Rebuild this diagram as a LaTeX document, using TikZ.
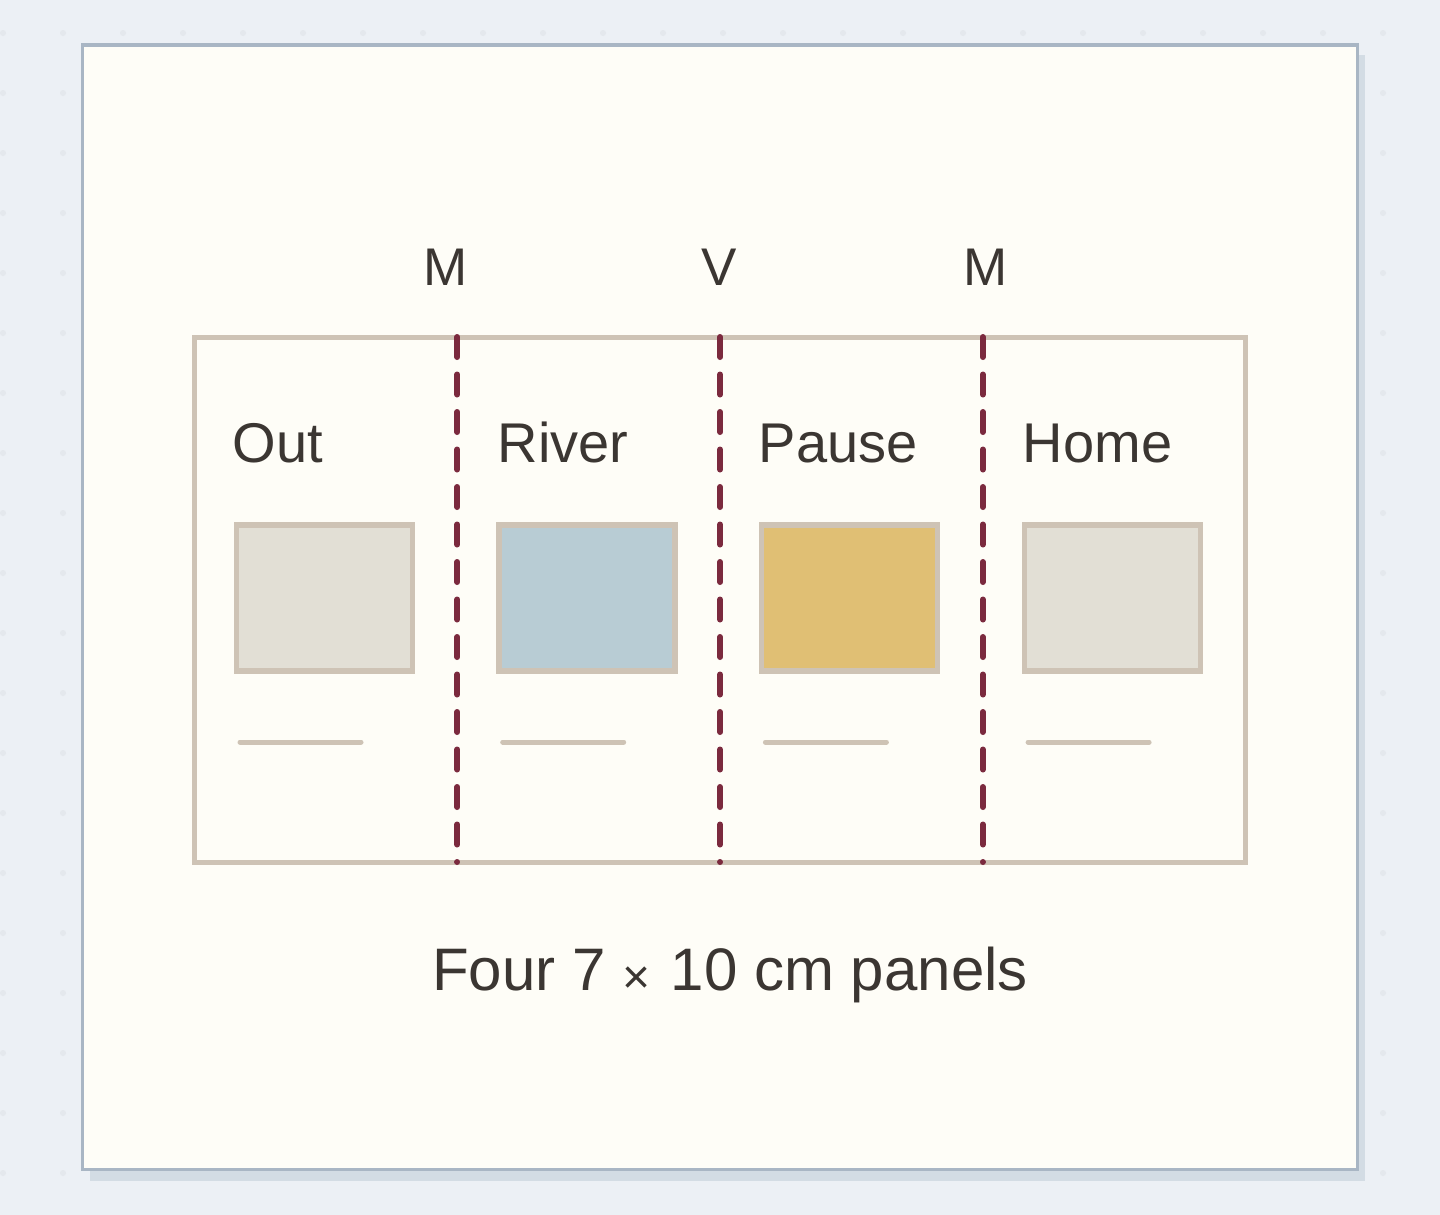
\documentclass[tikz,border=0pt]{standalone}
\usepackage{fontspec}
\setmainfont{Liberation Sans}
\definecolor{bg}{HTML}{ECF0F5}
\definecolor{bgdot}{HTML}{E4E8ED}
\definecolor{paper}{HTML}{FEFDF7}
\definecolor{frame}{HTML}{A9B6C4}
\definecolor{shadow}{HTML}{D3DCE4}
\definecolor{tan}{HTML}{CEC3B5}
\definecolor{fold}{HTML}{7B2A3E}
\definecolor{ink}{HTML}{3B3632}
\definecolor{fillgrey}{HTML}{E2DFD5}
\definecolor{fillblue}{HTML}{B8CCD4}
\definecolor{fillgold}{HTML}{E0BF74}
\tikzset{
  swatch/.style={draw=tan, line width=2.75pt, minimum width=88pt, minimum height=73pt, inner sep=0pt},
  rule/.style={draw=tan, line width=2.5pt, line cap=round},
  foldline/.style={draw=fold, line width=3pt, line cap=round, dash pattern=on 10pt off 8.75pt},
  paneltext/.style={anchor=base west, inner sep=0pt, text=ink, font=\fontsize{28pt}{32pt}\selectfont},
  foldtext/.style={anchor=base, inner sep=0pt, text=ink, font=\fontsize{26.5pt}{30pt}\selectfont},
  captext/.style={anchor=base, inner sep=0pt, text=ink, font=\fontsize{30pt}{34pt}\selectfont}
}
\begin{document}
\begin{tikzpicture}[x=0.5pt,y=-0.5pt]
\useasboundingbox (0,0) rectangle (1440,1215);
\fill[bg] (0,0) rectangle (1440,1215);
\foreach \i in {0,...,24} {
  \foreach \j in {0,...,19} {
    \fill[bgdot] ({3+60*\i},{33+60*\j}) circle (3);
  }
}
% shadow and paper
\fill[shadow] (90,55) rectangle (1365,1181);
\draw[fill=paper, draw=frame, line width=1.75pt] (82.5,45) rectangle (1357.5,1169.5);
% panel strip
\coordinate (pTL) at (194.7,337);
\coordinate (pBR) at (1245.5,862);
\draw[draw=tan, line width=2.5pt] (pTL) rectangle (pBR);
% fold lines
\coordinate (f1t) at (457.4,337); \coordinate (f1b) at (457.4,862);
\coordinate (f2t) at (720.1,337); \coordinate (f2b) at (720.1,862);
\coordinate (f3t) at (982.8,337); \coordinate (f3b) at (982.8,862);
\draw[foldline] (f1t) -- (f1b);
\draw[foldline] (f2t) -- (f2b);
\draw[foldline] (f3t) -- (f3b);
% fold labels
\node[foldtext] (m1) at (445.5,285) {M};
\node[foldtext] (v1) at (719,285) {V};
\node[foldtext] (m2) at (985.5,285) {M};
% panel labels
\node[paneltext] (tout) at (232.5,462) {Out};
\node[paneltext] (triver) at (497.5,462) {River};
\node[paneltext] (tpause) at (758.5,462) {Pause};
\node[paneltext] (thome) at (1022.5,462) {Home};
% swatches
\node[swatch, fill=fillgrey] (s1) at (324.3,598) {};
\node[swatch, fill=fillblue] (s2) at (587.0,598) {};
\node[swatch, fill=fillgold] (s3) at (849.7,598) {};
\node[swatch, fill=fillgrey] (s4) at (1112.4,598) {};
% rules
\coordinate (r1a) at (240,742); \coordinate (r1b) at (361,742);
\coordinate (r2a) at (502.7,742); \coordinate (r2b) at (623.7,742);
\coordinate (r3a) at (765.4,742); \coordinate (r3b) at (886.4,742);
\coordinate (r4a) at (1028.1,742); \coordinate (r4b) at (1149.1,742);
\draw[rule] (r1a) -- (r1b);
\draw[rule] (r2a) -- (r2b);
\draw[rule] (r3a) -- (r3b);
\draw[rule] (r4a) -- (r4b);
% caption
\node[captext] (cap) at (730,990) {Four 7 {\fontsize{24pt}{26pt}\selectfont\raisebox{-1.5pt}{×}}\hspace{2pt} 10 cm panels};
\end{tikzpicture}
\end{document}
